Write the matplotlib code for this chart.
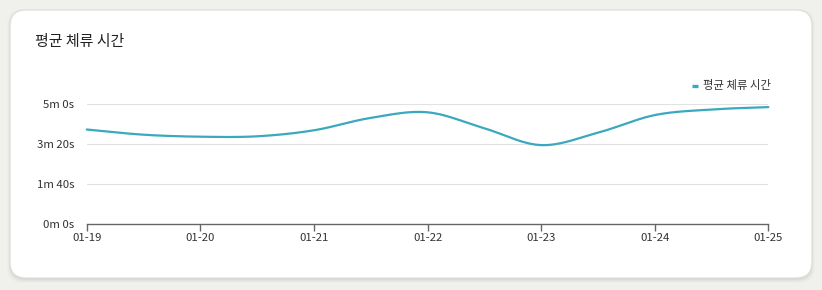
import numpy as np
import matplotlib
matplotlib.use("Agg")
import matplotlib.pyplot as plt
from matplotlib.patches import FancyBboxPatch

plt.rcParams['font.family'] = ['Noto Sans CJK KR', 'DejaVu Sans']

# ---- data ----
title = "평균 체류 시간"
series_name = "평균 체류 시간"
day_labels = ["01-19", "01-20", "01-21", "01-22", "01-23", "01-24", "01-25"]
# sample positions (days from 01-19, every 12 hours) and average dwell time (seconds)
sample_days = [0, 0.5, 1.0, 1.5, 2.0, 2.5, 3.0, 3.5, 4.0, 4.5, 5.0, 5.5, 6.0]
dwell_seconds = [237, 224, 219, 220, 235, 266, 280, 240, 198, 229, 273, 287, 293]
y_ticks = [0, 100, 200, 300]


def fmt(s):
    s = int(round(s))
    return f"{s // 60}m {s % 60}s"


def catmull_rom(x, y, n=30):
    x = np.asarray(x, float)
    y = np.asarray(y, float)
    px = np.concatenate([[2 * x[0] - x[1]], x, [2 * x[-1] - x[-2]]])
    py = np.concatenate([[2 * y[0] - y[1]], y, [2 * y[-1] - y[-2]]])
    xs, ys = [], []
    for i in range(1, len(px) - 2):
        t = np.linspace(0, 1, n, endpoint=(i == len(px) - 3))
        for P, out in ((px, xs), (py, ys)):
            p0, p1, p2, p3 = P[i - 1], P[i], P[i + 1], P[i + 2]
            out.append(0.5 * ((2 * p1) + (-p0 + p2) * t +
                              (2 * p0 - 5 * p1 + 4 * p2 - p3) * t ** 2 +
                              (-p0 + 3 * p1 - 3 * p2 + p3) * t ** 3))
    return np.concatenate(xs), np.concatenate(ys)


W, H = 822, 290
fig = plt.figure(figsize=(W / 100, H / 100), dpi=100)
fig.patch.set_facecolor('#f0f0ec')

# card shadow + card
bg = fig.add_axes([0, 0, 1, 1])
bg.set_xlim(0, W)
bg.set_ylim(H, 0)
bg.axis('off')
for k, a in enumerate([0.035, 0.025, 0.018, 0.012]):
    bg.add_patch(FancyBboxPatch((10 - k, 12 - k), 802 + 2 * k, 268 + 2 * k,
                                boxstyle="round,pad=0,rounding_size=16",
                                fc=(0, 0, 0, a), ec='none'))
bg.add_patch(FancyBboxPatch((10, 10), 802, 268,
                            boxstyle="round,pad=0,rounding_size=16",
                            fc='white', ec='#dcdcd8', lw=0.8))
bg.text(35, 42, title, fontsize=10.8, color='#222222', va='center', ha='left')

# legend
bg.plot([692, 698], [85.5, 85.5], color='#3aa9bd', lw=2.4, solid_capstyle='butt')
bg.text(703, 85.5, series_name, fontsize=8.2, color='#333333', va='center', ha='left')

ax = fig.add_axes([86.7 / W, 1 - 224.3 / H, (768.3 - 86.7) / W, 120 / H])
ax.set_facecolor('none')
sx, sy = catmull_rom(sample_days, dwell_seconds)
ax.plot(sx, sy, color='#3aa9bd', lw=1.6, solid_capstyle='round', clip_on=False)

ax.set_xlim(0, 6)
ax.set_ylim(0, 300)
ax.set_xticks(range(len(day_labels)))
ax.set_xticklabels(day_labels)
ax.set_yticks(y_ticks)
ax.set_yticklabels([fmt(v) for v in y_ticks])
for v in y_ticks[1:]:
    ax.axhline(v, color='#e2e2e2', lw=0.8, zorder=0)
for s in ['top', 'right', 'left']:
    ax.spines[s].set_visible(False)
ax.spines['bottom'].set_color('#666666')
ax.spines['bottom'].set_linewidth(1.0)
ax.tick_params(axis='x', length=5, width=1, color='#666666', labelsize=8.2,
               labelcolor='#333333', pad=1.0)
ax.tick_params(axis='y', length=0, labelsize=8.2, labelcolor='#333333', pad=9)

fig.savefig('out.png', dpi=100, facecolor=fig.get_facecolor())
